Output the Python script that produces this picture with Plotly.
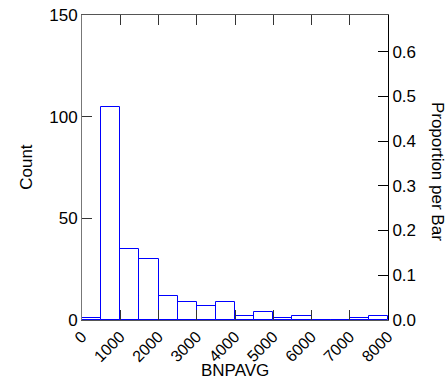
import plotly.graph_objects as go

bin_start = [0, 500, 1000, 1500, 2000, 2500, 3000, 3500, 4000, 4500, 5000, 5500, 6000, 6500, 7000, 7500]
bin_width = 500
counts = [1, 105, 35, 30, 12, 9, 7, 9, 2, 4, 1, 2, 0, 0, 1, 2]
x_ticks = [0, 1000, 2000, 3000, 4000, 5000, 6000, 7000, 8000]
y_ticks = [0, 50, 100, 150]
p_ticks = [0.0, 0.1, 0.2, 0.3, 0.4, 0.5, 0.6]

total = sum(counts)
centers = [s + bin_width / 2 for s in bin_start]
props = [c / total for c in counts]
FONT = "Liberation Sans, Arial, sans-serif"

fig = go.Figure()
fig.add_trace(go.Bar(
    x=centers, y=counts, width=[bin_width] * len(counts),
    marker=dict(color="rgba(255,255,255,0)", line=dict(color="#0000ff", width=1)),
    hoverinfo="skip", showlegend=False,
))
fig.add_trace(go.Scatter(
    x=centers, y=props, yaxis="y2", mode="markers",
    marker=dict(opacity=0), hoverinfo="skip", showlegend=False,
))

fig.update_layout(
    width=446, height=384,
    margin=dict(l=82, r=58, t=15, b=64),
    paper_bgcolor="white", plot_bgcolor="white",
    font=dict(family=FONT, size=17, color="black"),
    bargap=0,
    xaxis=dict(
        range=[0, 8000], tickvals=x_ticks, ticktext=[str(v) for v in x_ticks],
        tickangle=-45, ticks="inside", ticklen=10, tickcolor="#333",
        showline=True, linecolor="#555", mirror="ticks", showgrid=False, zeroline=False,
        tickfont=dict(size=16), automargin=False,
    ),
    yaxis=dict(
        range=[0, 150], tickvals=y_ticks, ticks="inside", ticklen=10, tickcolor="#333",
        showline=True, linecolor="#777", showgrid=False, zeroline=False,
        tickfont=dict(size=17), automargin=False,
    ),
    yaxis2=dict(
        overlaying="y", side="right", range=[0, 150 / total],
        tickvals=p_ticks, tickformat=".1f", ticks="inside", ticklen=10, tickcolor="black",
        showline=True, linecolor="black", showgrid=False, zeroline=False,
        tickfont=dict(size=17), automargin=False,
    ),
)
fig.add_annotation(
    text="Count", xref="paper", yref="paper", x=-0.18, y=0.502,
    textangle=-90, showarrow=False, font=dict(size=17, family=FONT),
    xanchor="center", yanchor="middle",
)
fig.add_annotation(
    text="BNPAVG", xref="paper", yref="paper", x=0.5, y=-0.166,
    showarrow=False, font=dict(size=17, family=FONT),
    xanchor="center", yanchor="middle",
)
fig.add_annotation(
    text="Proportion per Bar", xref="paper", yref="paper", x=1.162, y=0.487,
    textangle=90, showarrow=False, font=dict(size=17, family=FONT),
    xanchor="center", yanchor="middle",
)
fig.write_html("out.html")
